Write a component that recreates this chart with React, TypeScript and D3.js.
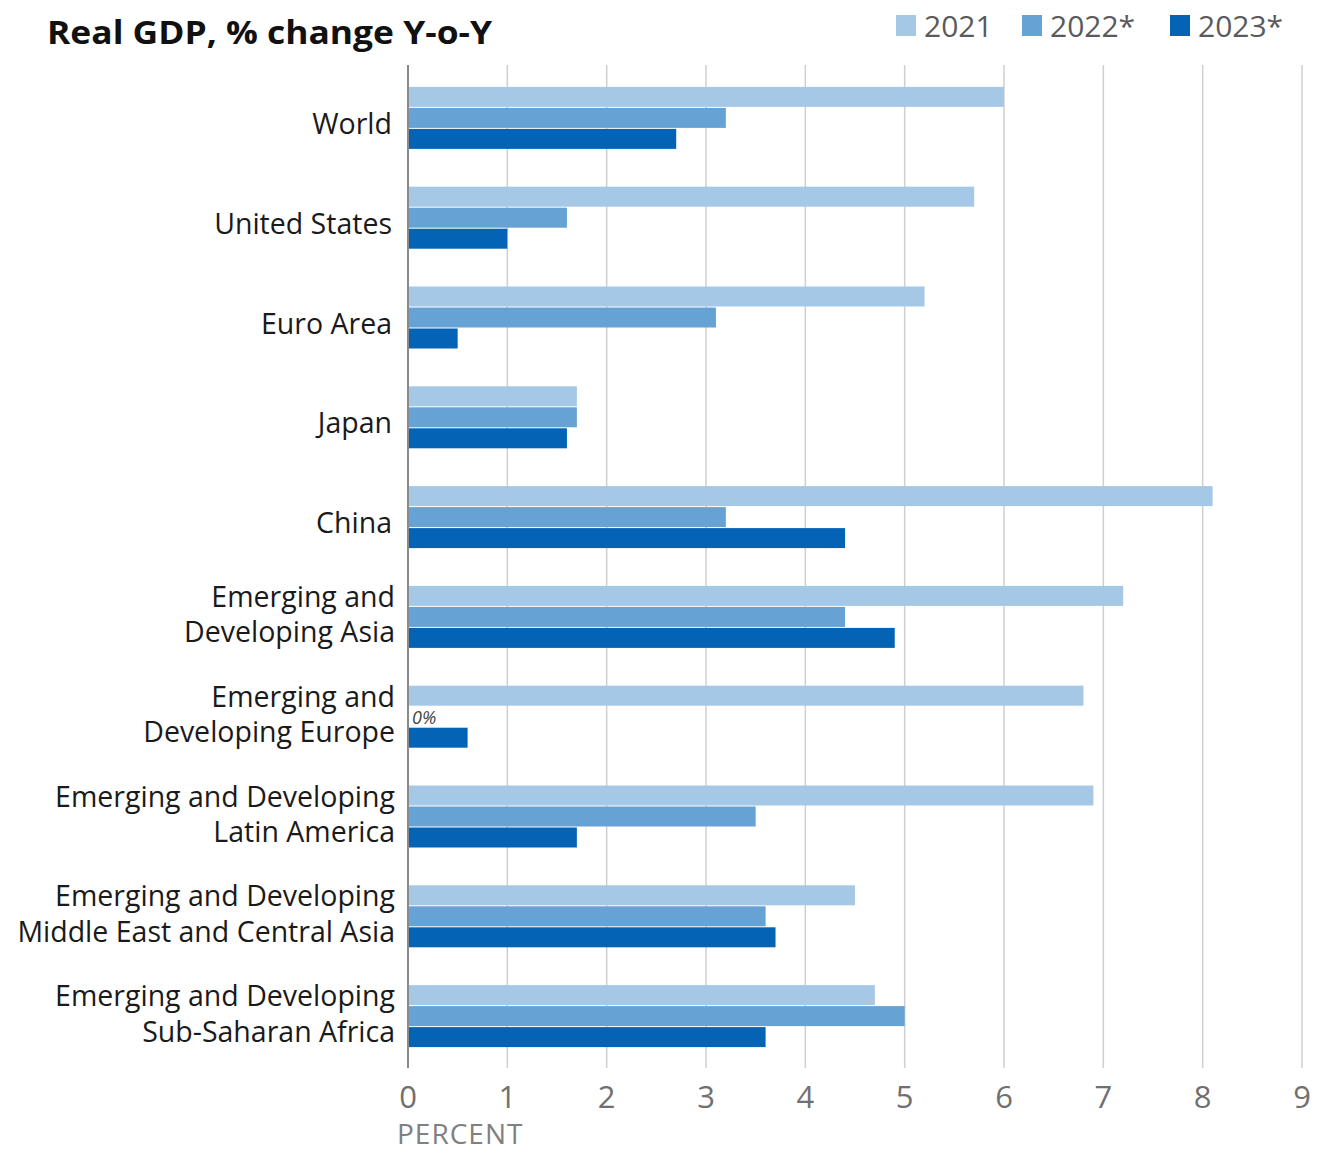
import React from "react";
import * as d3 from "d3";

const categories = [
  "World",
  "United States",
  "Euro Area",
  "Japan",
  "China",
  "Emerging and|Developing Asia",
  "Emerging and|Developing Europe",
  "Emerging and Developing|Latin America",
  "Emerging and Developing|Middle East and Central Asia",
  "Emerging and Developing|Sub-Saharan Africa",
];
const series = ["2021", "2022*", "2023*"];
const values2021 = [6.0, 5.7, 5.2, 1.7, 8.1, 7.2, 6.8, 6.9, 4.5, 4.7];
const values2022 = [3.2, 1.6, 3.1, 1.7, 3.2, 4.4, 0, 3.5, 3.6, 5.0];
const values2023 = [2.7, 1.0, 0.5, 1.6, 4.4, 4.9, 0.6, 1.7, 3.7, 3.6];
const ticks = [0, 1, 2, 3, 4, 5, 6, 7, 8, 9];
const colors = ["#a6c8e7", "#67a2d4", "#0563b6"];

const W = 1323;
const H = 1154;
const FONT = "'Open Sans', sans-serif";

export default function App() {
  const x = d3.scaleLinear().domain([0, 9]).range([408, 1302]);
  const y0 = d3.scaleBand<string>().domain(categories).range([68, 1066]).padding(0);
  const y1 = d3.scaleBand<string>().domain(series).range([-31.5, 31.5]).padding(0);
  const all = [values2021, values2022, values2023];

  return (
    <svg width={W} height={H} style={{ position: "absolute", left: 0, top: 0, background: "#fff" }}>
      <text
        x={47}
        y={44}
        fontFamily={FONT}
        fontWeight={700}
        fontSize={33}
        fill="#111"
        textLength={445}
        lengthAdjust="spacingAndGlyphs"
      >
        Real GDP, % change Y-o-Y
      </text>
      {/* legend */}
      {series.map((s, i) => {
        const lx = [896, 1022, 1170][i];
        return (
          <g key={s}>
            <rect x={lx} y={15} width={20} height={21} fill={colors[i]} />
            <text x={lx + 28} y={37} fontFamily={FONT} fontSize={30} fill="#5a5a5a">
              {s}
            </text>
          </g>
        );
      })}
      {/* gridlines */}
      {ticks.map((t) => (
        <line
          key={t}
          x1={x(t)}
          x2={x(t)}
          y1={65}
          y2={1068}
          stroke={t === 0 ? "#8a8a8a" : "#cfcfcf"}
          strokeWidth={t === 0 ? 2 : 1.5}
        />
      ))}
      {/* bars */}
      {categories.map((c, ci) => {
        const cy = (y0(c) as number) + y0.bandwidth() / 2;
        return (
          <g key={c}>
            {series.map((s, si) => {
              const v = all[si][ci];
              const by = cy + (y1(s) as number);
              return (
                <rect
                  key={s}
                  x={x(0) + 1}
                  y={by + 0.5}
                  width={Math.max(0, x(v) - x(0) - 1)}
                  height={y1.bandwidth() - 1}
                  fill={colors[si]}
                />
              );
            })}
            {all[1][ci] === 0 && (
              <text
                x={x(0) + 4}
                y={cy + (y1(series[1]) as number) + y1.bandwidth() / 2 + 7}
                fontFamily={FONT}
                fontStyle="italic"
                fontSize={18}
                fill="#444"
              >
                0%
              </text>
            )}
            {(() => {
              const lines = c.split("|");
              const offs = lines.length > 1 ? [-10, 25.5] : [16];
              return lines.map((ln, li) => (
                <text
                  key={li}
                  x={lines.length > 1 ? 395 : 392}
                  y={cy + offs[li]}
                  textAnchor="end"
                  fontFamily={FONT}
                  fontSize={28.5}
                  fill="#1a1a1a"
                >
                  {ln}
                </text>
              ));
            })()}
          </g>
        );
      })}
      {/* tick labels */}
      {ticks.map((t) => (
        <text key={t} x={x(t)} y={1108} textAnchor="middle" fontFamily={FONT} fontSize={31} fill="#707070">
          {t}
        </text>
      ))}
      <text x={397} y={1144} fontFamily={FONT} fontSize={28} letterSpacing={1} fill="#808080">
        PERCENT
      </text>
    </svg>
  );
}
